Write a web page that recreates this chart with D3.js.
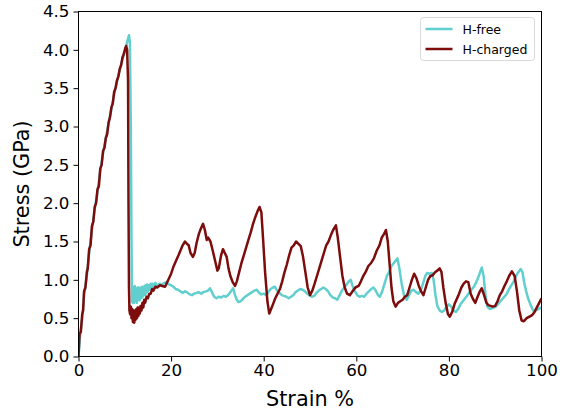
<!DOCTYPE html>
<html>
<head>
<meta charset="utf-8">
<script src="https://cdn.jsdelivr.net/npm/d3@7"></script>
<style>
  body { margin: 0; background: #fff; }
  #chart { width: 563px; height: 412px; }
  text { font-family: "DejaVu Sans", sans-serif; fill: #000; }
  .axis path, .axis line { stroke: #000; }
</style>
</head>
<body>
<div id="chart"></div>
<script>

// [strain %, stress GPa]
const hFree = [
  [0,0],[0.3,0.25],[0.8,0.5],[1.2,0.8],[1.8,1.05],[2.3,1.35],[2.9,1.65],[3.5,1.92],[4.1,2.15],[4.7,2.42],
  [5.3,2.65],[5.9,2.85],[6.5,3.05],[7.1,3.22],[7.7,3.42],[8.3,3.58],[8.9,3.73],[9.5,3.88],[10.1,4.0],[10.5,4.1],
  [10.9,4.19],[11.1,4.1],[11.3,3.0],[11.45,1.5],[11.55,0.72],[11.7,0.7],
  [11.85,0.9],[12.0,0.7],[12.15,0.92],[12.3,0.72],[12.45,0.88],[12.6,0.7],[12.75,0.9],[12.9,0.74],[13.05,0.9],
  [13.2,0.73],[13.35,0.89],[13.5,0.76],[13.65,0.91],[13.8,0.77],[13.95,0.9],[14.1,0.8],[14.25,0.92],[14.4,0.8],
  [14.55,0.93],[14.7,0.83],[14.85,0.94],[15.0,0.85],[15.2,0.93],[15.4,0.87],[15.6,0.95],[15.8,0.89],[16.0,0.95],
  [16.3,0.9],[16.6,0.96],[17.0,0.92],[17.5,0.95],[18.0,0.93],[18.5,0.96],[19.0,0.97],[19.5,0.94],[20.0,0.93],
  [20.5,0.91],[21.0,0.88],[21.5,0.87],[22.0,0.85],[22.5,0.83],[23.0,0.85],[23.4,0.84],[24.0,0.81],[24.5,0.8],
  [25.0,0.82],[25.5,0.83],[25.9,0.84],[26.5,0.82],[27.0,0.84],[27.5,0.85],[28.0,0.86],[28.4,0.89],[28.8,0.84],
  [29.3,0.78],[29.8,0.76],[30.3,0.78],[30.8,0.77],[31.3,0.79],[31.8,0.78],[32.3,0.8],[32.8,0.84],[33.4,0.89],
  [33.8,0.8],[34.2,0.74],[34.5,0.71],[35.0,0.72],[35.5,0.75],[36.0,0.78],[36.5,0.8],[37.0,0.82],[37.5,0.84],
  [38.0,0.86],[38.5,0.87],[39.0,0.83],[39.5,0.81],[40.0,0.82],[40.6,0.8],[41.0,0.84],[41.5,0.88],[42.0,0.9],
  [42.4,0.91],[42.9,0.86],[43.4,0.83],[43.9,0.8],[44.4,0.79],[44.9,0.78],[45.4,0.76],[45.9,0.78],[46.4,0.8],
  [46.9,0.84],[47.4,0.86],[47.9,0.88],[48.4,0.87],[48.9,0.85],[49.4,0.82],[49.9,0.8],[50.4,0.78],[50.9,0.79],
  [51.4,0.83],[51.9,0.86],[52.4,0.88],[52.9,0.9],[53.4,0.88],[53.9,0.85],[54.4,0.8],[54.9,0.77],[55.4,0.76],
  [55.9,0.74],[56.4,0.8],[56.9,0.86],[57.4,0.9],[57.9,0.94],[58.4,0.98],[58.8,1.0],[59.2,0.92],[59.7,0.85],
  [60.2,0.8],[60.7,0.78],[61.2,0.79],[61.7,0.78],[62.2,0.82],[62.7,0.85],[63.2,0.88],[63.7,0.9],[64.2,0.86],
  [64.7,0.8],[65.1,0.78],[65.6,0.85],[66.1,0.95],[66.6,1.05],[67.1,1.1],[67.6,1.18],[68.1,1.22],[68.6,1.26],
  [68.9,1.28],[69.3,1.15],[69.8,0.95],[70.3,0.8],[70.9,0.74],[71.4,0.8],[71.9,0.86],[72.4,0.87],[72.9,0.84],
  [73.4,0.82],[73.9,0.86],[74.4,0.95],[74.9,1.05],[75.3,1.09],[75.8,1.08],[76.3,1.09],[76.7,1.0],[77.1,0.8],
  [77.5,0.66],[78.0,0.6],[78.5,0.58],[79.0,0.6],[79.5,0.65],[80.0,0.68],[80.5,0.65],[81.0,0.6],[81.5,0.58],
  [82.0,0.62],[82.5,0.68],[83.0,0.72],[83.5,0.76],[84.0,0.8],[84.5,0.84],[85.0,0.88],[85.5,0.92],[86.0,0.98],
  [86.5,1.06],[87.1,1.16],[87.5,1.05],[87.9,0.8],[88.3,0.65],[88.8,0.62],[89.3,0.63],[89.8,0.64],[90.3,0.66],
  [90.8,0.7],[91.4,0.74],[92.0,0.78],[92.5,0.82],[93.0,0.88],[93.5,0.93],[94.0,0.98],[94.5,1.05],[95.0,1.1],
  [95.5,1.14],[95.9,1.1],[96.3,0.95],[96.7,0.85],[97.1,0.76],[97.6,0.68],[98.2,0.6],[98.8,0.6],[99.4,0.62],[100,0.64]
];

const hCharged = [
  [0,0],[0.15,0.2],[0.25,0.3],[0.5,0.32],[0.8,0.55],[1.0,0.6],[1.2,0.85],[1.5,0.9],[1.8,1.1],[2.0,1.15],
  [2.3,1.4],[2.6,1.45],[2.9,1.7],[3.2,1.76],[3.5,1.95],[3.8,2.0],[4.1,2.18],[4.4,2.22],[4.7,2.45],[5.0,2.5],
  [5.3,2.68],[5.6,2.72],[5.9,2.85],[6.2,2.9],[6.5,3.05],[6.8,3.12],[7.1,3.25],[7.4,3.3],[7.7,3.45],[8.0,3.5],
  [8.3,3.6],[8.6,3.65],[8.9,3.75],[9.2,3.8],[9.5,3.9],[9.8,3.95],[10.1,4.02],[10.3,4.05],[10.5,4.0],[10.7,3.6],
  [10.8,2.0],[10.9,0.9],[11.0,0.6],
  [11.15,0.55],[11.3,0.65],[11.45,0.5],[11.6,0.62],[11.75,0.45],[11.9,0.6],[12.05,0.44],[12.2,0.6],[12.35,0.48],
  [12.5,0.62],[12.65,0.5],[12.8,0.64],[12.95,0.53],[13.1,0.64],[13.25,0.56],[13.4,0.66],[13.6,0.6],[13.8,0.7],
  [14.0,0.64],[14.2,0.74],[14.4,0.7],[14.7,0.78],[15.0,0.76],[15.3,0.82],[15.6,0.82],[15.9,0.88],[16.2,0.86],
  [16.6,0.91],[17.0,0.9],[17.6,0.93],[18.1,0.92],[18.7,0.91],[19.4,1.0],[20.0,1.08],[20.5,1.17],[21.0,1.24],
  [21.6,1.32],[22.0,1.38],[22.5,1.45],[23.0,1.5],[23.4,1.47],[23.8,1.45],[24.2,1.35],[24.7,1.3],[25.1,1.35],
  [25.5,1.48],[26.0,1.6],[26.5,1.68],[26.9,1.73],[27.3,1.65],[27.7,1.52],[28.0,1.55],[28.5,1.5],[29.0,1.38],
  [29.5,1.25],[30.0,1.12],[30.3,1.15],[30.8,1.32],[31.2,1.4],[31.6,1.35],[32.0,1.3],[32.4,1.15],[32.8,1.05],
  [33.3,0.97],[33.8,0.92],[34.2,0.98],[34.7,1.1],[35.2,1.22],[35.7,1.32],[36.2,1.42],[36.7,1.52],[37.2,1.62],
  [37.7,1.73],[38.2,1.82],[38.7,1.9],[39.1,1.95],[39.5,1.88],[39.9,1.5],[40.3,1.1],[40.8,0.72],[41.2,0.56],
  [41.6,0.62],[42.0,0.68],[42.5,0.76],[43.0,0.82],[43.5,0.88],[44.0,0.98],[44.5,1.1],[45.0,1.2],[45.5,1.32],
  [46.0,1.42],[46.5,1.45],[47.0,1.5],[47.5,1.47],[48.0,1.44],[48.5,1.3],[49.0,1.1],[49.5,0.9],[50.0,0.8],
  [50.5,0.86],[51.0,0.95],[51.5,1.05],[52.0,1.15],[52.5,1.25],[53.0,1.35],[53.5,1.45],[54.0,1.5],[54.5,1.58],
  [55.0,1.65],[55.6,1.71],[56.0,1.55],[56.5,1.3],[57.0,1.05],[57.5,0.9],[58.0,0.82],[58.6,0.8],[59.2,0.85],
  [59.8,0.9],[60.5,0.92],[61.0,0.98],[61.5,1.05],[62.0,1.1],[62.6,1.18],[63.2,1.22],[63.8,1.28],[64.4,1.38],
  [65.0,1.45],[65.5,1.55],[66.0,1.6],[66.4,1.65],[66.8,1.5],[67.2,1.2],[67.6,0.9],[68.0,0.72],[68.5,0.65],
  [69.0,0.7],[69.5,0.72],[70.0,0.74],[70.5,0.78],[71.0,0.8],[71.5,0.9],[72.0,1.0],[72.5,1.08],[73.0,1.02],
  [73.5,0.92],[74.0,0.85],[74.5,0.8],[75.0,0.9],[75.5,1.0],[76.0,1.05],[76.5,1.06],[77.0,1.1],[77.5,1.12],
  [78.0,1.15],[78.4,1.1],[78.8,0.9],[79.3,0.7],[79.8,0.55],[80.2,0.52],[80.7,0.58],[81.2,0.68],[81.7,0.75],
  [82.2,0.82],[82.7,0.9],[83.2,0.95],[83.7,0.98],[84.2,0.97],[84.7,0.82],[85.2,0.75],[85.7,0.7],[86.2,0.78],
  [86.7,0.85],[87.1,0.89],[87.6,0.8],[88.1,0.7],[88.5,0.67],[89.0,0.66],[89.5,0.65],[90.0,0.66],[90.5,0.72],
  [91.0,0.8],[91.5,0.85],[92.0,0.92],[92.5,0.98],[93.0,1.05],[93.6,1.11],[94.2,1.05],[94.7,0.85],[95.2,0.6],
  [95.7,0.47],[96.2,0.46],[96.8,0.5],[97.4,0.52],[98.0,0.54],[98.5,0.58],[99.0,0.64],[99.5,0.7],[100,0.76]
];

const xTicks = [0, 20, 40, 60, 80, 100];
const yTicks = [0, 0.5, 1, 1.5, 2, 2.5, 3, 3.5, 4, 4.5];

const seriesNames = ["H-free", "H-charged"];
const seriesColors = ["#62cfcf", "#7d0c0c"];

class StressStrain {

	constructor(parentElement, series){
		this.parentElement = parentElement;
		this.series = series;
		this.initVis();
	}

	initVis() {
		let vis = this;

		vis.margin = {top: 11.5, right: 21.5, bottom: 55.5, left: 78.5};
		vis.width = 563 - vis.margin.left - vis.margin.right;
		vis.height = 412 - vis.margin.top - vis.margin.bottom;

		vis.svg = d3.select(vis.parentElement).append("svg")
			.attr("width", 563)
			.attr("height", 412)
			.append("g")
			.attr("transform", "translate(" + vis.margin.left + "," + vis.margin.top + ")");

		vis.x = d3.scaleLinear().domain([0, 100]).range([0, vis.width]);
		vis.y = d3.scaleLinear().domain([0, 4.5]).range([vis.height, 0]);

		vis.svg.append("defs").append("clipPath")
			.attr("id", "clip")
			.append("rect")
			.attr("width", vis.width)
			.attr("height", vis.height);

		// lines
		vis.line = d3.line()
			.x(d => vis.x(d[0]))
			.y(d => vis.y(d[1]));

		vis.svg.append("g")
			.attr("clip-path", "url(#clip)")
			.selectAll("path")
			.data(vis.series)
			.enter().append("path")
			.attr("d", d => vis.line(d.values))
			.attr("fill", "none")
			.attr("stroke", d => d.color)
			.attr("stroke-width", 2.5)
			.attr("stroke-linejoin", "round");

		// axes
		vis.svg.append("g")
			.attr("class", "axis axis-x")
			.attr("transform", "translate(0," + vis.height + ")")
			.call(d3.axisBottom(vis.x).tickValues(xTicks).tickSize(5).tickPadding(3).tickFormat(d3.format("d")))
			.call(g => g.selectAll("text").style("font-size", "16.7px"));

		vis.svg.append("g")
			.attr("class", "axis axis-y")
			.call(d3.axisLeft(vis.y).tickValues(yTicks).tickSize(5).tickPadding(4).tickFormat(d3.format(".1f")))
			.call(g => g.selectAll("text").style("font-size", "16.7px"));

		vis.svg.selectAll(".axis .domain").remove();

		// frame
		vis.svg.append("rect")
			.attr("width", vis.width)
			.attr("height", vis.height)
			.attr("fill", "none")
			.attr("stroke", "#000")
			.attr("stroke-width", 1);

		// labels
		vis.svg.append("text")
			.attr("x", vis.width / 2)
			.attr("y", vis.height + 49)
			.attr("text-anchor", "middle")
			.style("font-size", "20.8px")
			.text("Strain %");

		vis.svg.append("text")
			.attr("transform", "translate(" + (-50) + "," + (vis.height / 2) + ") rotate(-90)")
			.attr("text-anchor", "middle")
			.style("font-size", "20.8px")
			.text("Stress (GPa)");

		// legend
		let legend = vis.svg.append("g")
			.attr("transform", "translate(" + (vis.width - 121) + ",6)");

		legend.append("rect")
			.attr("width", 114)
			.attr("height", 43)
			.attr("rx", 3)
			.attr("fill", "#fff")
			.attr("fill-opacity", 0.8)
			.attr("stroke", "#d9d9d9");

		let item = legend.selectAll(".item")
			.data(vis.series)
			.enter().append("g")
			.attr("transform", (d, i) => "translate(5," + (11.5 + i * 20) + ")");

		item.append("line")
			.attr("x1", 0).attr("x2", 27)
			.attr("stroke", d => d.color)
			.attr("stroke-width", 2.5);

		item.append("text")
			.attr("x", 37)
			.attr("dy", "0.36em")
			.style("font-size", "12.5px")
			.text(d => d.name);
	}
}

let series = [
	{name: seriesNames[0], color: seriesColors[0], values: hFree},
	{name: seriesNames[1], color: seriesColors[1], values: hCharged}
];

new StressStrain(document.getElementById("chart"), series);
</script>
</body>
</html>
